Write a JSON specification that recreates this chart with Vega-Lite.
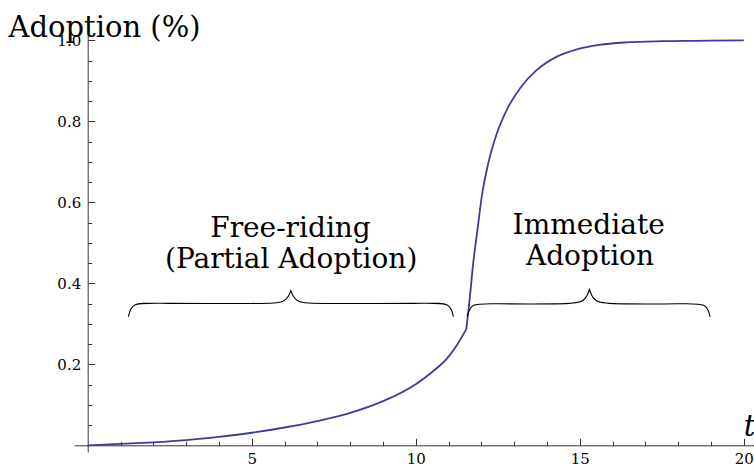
{
  "$schema": "https://vega.github.io/schema/vega-lite/v6.json",
  "width": 680,
  "height": 417,
  "autosize": {"type": "none"},
  "padding": {"left": 74, "top": 35, "right": 0, "bottom": 18},
  "background": "white",
  "config": {"view": {"stroke": null}},
  "resolve": {"axis": {"x": "independent", "y": "independent"}},
  "datasets": {
    "curve": [
      {"s": "a", "x": 0, "y": 0},
      {"s": "a", "x": 1, "y": 0.0035},
      {"s": "a", "x": 2, "y": 0.0075},
      {"s": "a", "x": 3, "y": 0.013},
      {"s": "a", "x": 4, "y": 0.021},
      {"s": "a", "x": 5, "y": 0.031},
      {"s": "a", "x": 6, "y": 0.044},
      {"s": "a", "x": 7, "y": 0.060},
      {"s": "a", "x": 8, "y": 0.080},
      {"s": "a", "x": 9, "y": 0.109},
      {"s": "a", "x": 10, "y": 0.151},
      {"s": "a", "x": 10.5, "y": 0.181},
      {"s": "a", "x": 11, "y": 0.219},
      {"s": "a", "x": 11.25, "y": 0.247},
      {"s": "a", "x": 11.54, "y": 0.287},
      {"s": "b", "x": 11.54, "y": 0.287},
      {"s": "b", "x": 11.65, "y": 0.367},
      {"s": "b", "x": 11.75, "y": 0.450},
      {"s": "b", "x": 11.88, "y": 0.532},
      {"s": "b", "x": 12.01, "y": 0.614},
      {"s": "b", "x": 12.21, "y": 0.697},
      {"s": "b", "x": 12.47, "y": 0.770},
      {"s": "b", "x": 12.77, "y": 0.828},
      {"s": "b", "x": 13.18, "y": 0.882},
      {"s": "b", "x": 13.69, "y": 0.927},
      {"s": "b", "x": 14.30, "y": 0.960},
      {"s": "b", "x": 14.91, "y": 0.978},
      {"s": "b", "x": 15.6, "y": 0.989},
      {"s": "b", "x": 16.4, "y": 0.995},
      {"s": "b", "x": 17.5, "y": 0.998},
      {"s": "b", "x": 18.5, "y": 0.999},
      {"s": "b", "x": 20, "y": 1.0}
    ],
    "braces": [
      {"b": "L", "i": 0, "x": 1.24, "y": 0.3175},
      {"b": "L", "i": 1, "x": 1.34, "y": 0.353},
      {"b": "L", "i": 2, "x": 2.0, "y": 0.350},
      {"b": "L", "i": 3, "x": 5.4, "y": 0.350},
      {"b": "L", "i": 4, "x": 6.05, "y": 0.352},
      {"b": "L", "i": 5, "x": 6.19, "y": 0.382},
      {"b": "L", "i": 6, "x": 6.19, "y": 0.382},
      {"b": "L", "i": 7, "x": 6.19, "y": 0.382},
      {"b": "L", "i": 8, "x": 6.33, "y": 0.352},
      {"b": "L", "i": 9, "x": 6.98, "y": 0.350},
      {"b": "L", "i": 10, "x": 10.39, "y": 0.350},
      {"b": "L", "i": 11, "x": 11.05, "y": 0.353},
      {"b": "L", "i": 12, "x": 11.146, "y": 0.3175},
      {"b": "R", "i": 0, "x": 11.573, "y": 0.3175},
      {"b": "R", "i": 1, "x": 11.67, "y": 0.352},
      {"b": "R", "i": 2, "x": 12.33, "y": 0.349},
      {"b": "R", "i": 3, "x": 14.5, "y": 0.349},
      {"b": "R", "i": 4, "x": 15.15, "y": 0.351},
      {"b": "R", "i": 5, "x": 15.293, "y": 0.385},
      {"b": "R", "i": 6, "x": 15.293, "y": 0.385},
      {"b": "R", "i": 7, "x": 15.293, "y": 0.385},
      {"b": "R", "i": 8, "x": 15.44, "y": 0.351},
      {"b": "R", "i": 9, "x": 16.09, "y": 0.349},
      {"b": "R", "i": 10, "x": 18.21, "y": 0.349},
      {"b": "R", "i": 11, "x": 18.87, "y": 0.352},
      {"b": "R", "i": 12, "x": 18.97, "y": 0.3175}
    ],
    "labels": [
      {"x": 6.18, "y": 0.515, "text": "Free-riding"},
      {"x": 6.2, "y": 0.438, "text": "(Partial Adoption)"},
      {"x": 15.27, "y": 0.521, "text": "Immediate"},
      {"x": 15.31, "y": 0.445, "text": "Adoption"}
    ]
  },
  "layer": [
    {
      "data": {"name": "curve"},
      "mark": {"type": "line", "color": "#3c3c9c", "strokeWidth": 1.8, "interpolate": "monotone", "clip": true},
      "encoding": {
        "x": {
          "field": "x", "type": "quantitative",
          "scale": {"domain": [-0.42, 20.31], "nice": false, "zero": false},
          "axis": {
            "orient": "bottom", "offset": -6.7,
            "values": [5, 10, 15, 20],
            "ticks": false,
            "labelPadding": 6,
            "labelFont": "DejaVu Serif", "labelFontSize": 15, "labelColor": "black",
            "labelBaseline": "top", "labelFlush": false, "labelOverlap": false,
            "domainColor": "#333", "domainWidth": 1,
            "grid": false,
            "title": "t", "titleFont": "DejaVu Serif", "titleFontStyle": "italic",
            "titleFontWeight": "normal", "titleFontSize": 29, "titleColor": "black",
            "titleX": 675, "titleY": -10, "titleAlign": "center", "titleBaseline": "alphabetic", "titleAngle": 0
          }
        },
        "y": {
          "field": "y", "type": "quantitative",
          "scale": {"domain": [-0.0165, 1.0133], "nice": false, "zero": false},
          "axis": {
            "orient": "left", "offset": -13.7,
            "values": [0.2, 0.4, 0.6, 0.8, 1.0],
            "format": ".1f",
            "ticks": false,
            "labelPadding": 7,
            "labelFont": "DejaVu Serif", "labelFontSize": 15, "labelColor": "black",
            "labelFlush": false, "labelOverlap": false, "labelBaseline": "middle",
            "domainColor": "#333", "domainWidth": 1,
            "grid": false,
            "title": "Adoption (%)", "titleFont": "DejaVu Serif", "titleFontWeight": "normal",
            "titleFontSize": 29, "titleColor": "black",
            "titleX": -79.7, "titleY": 1, "titleAlign": "left", "titleBaseline": "alphabetic", "titleAngle": 0
          }
        },
        "detail": {"field": "s"}
      }
    },
    {
      "data": {"name": "braces"},
      "mark": {"type": "line", "color": "black", "strokeWidth": 1.1, "interpolate": "basis"},
      "encoding": {
        "x": {
          "field": "x", "type": "quantitative",
          "axis": {
            "orient": "top", "offset": -410.3,
            "values": [1,2,3,4,6,7,8,9,11,12,13,14,16,17,18,19],
            "tickSize": 4, "tickColor": "#333", "tickWidth": 1,
            "labels": false, "domain": false, "grid": false, "title": null
          }
        },
        "y": {
          "field": "y", "type": "quantitative",
          "axis": {
            "orient": "right", "offset": -666.3,
            "values": [0.05,0.1,0.15,0.25,0.3,0.35,0.45,0.5,0.55,0.65,0.7,0.75,0.85,0.9,0.95],
            "tickSize": 4, "tickColor": "#333", "tickWidth": 1,
            "labels": false, "domain": false, "grid": false, "title": null
          }
        },
        "detail": {"field": "b"},
        "order": {"field": "i", "type": "quantitative"}
      }
    },
    {
      "data": {"name": "labels"},
      "mark": {"type": "text", "font": "DejaVu Serif", "fontSize": 28, "align": "center", "baseline": "alphabetic", "color": "black"},
      "encoding": {
        "x": {
          "field": "x", "type": "quantitative",
          "axis": {
            "orient": "top", "offset": -410.3,
            "values": [5, 10, 15, 20],
            "tickSize": 7, "tickColor": "#333", "tickWidth": 1,
            "labels": false, "domain": false, "grid": false, "title": null
          }
        },
        "y": {
          "field": "y", "type": "quantitative",
          "axis": {
            "orient": "right", "offset": -666.3,
            "values": [0.2, 0.4, 0.6, 0.8, 1.0],
            "tickSize": 7, "tickColor": "#333", "tickWidth": 1,
            "labels": false, "domain": false, "grid": false, "title": null
          }
        },
        "text": {"field": "text"}
      }
    }
  ]
}
